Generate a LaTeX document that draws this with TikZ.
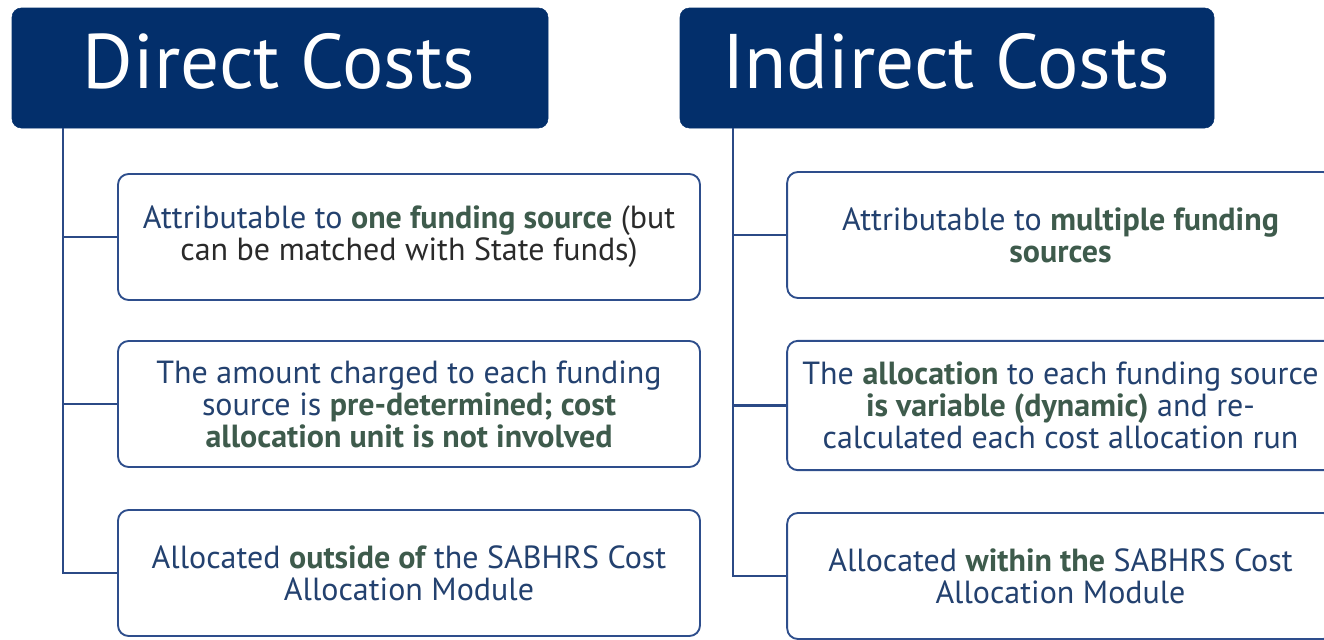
\documentclass[tikz,border=0pt]{standalone}
\usepackage{fontspec}
\setmainfont{PT Sans}
\usetikzlibrary{calc}
\definecolor{navyhead}{HTML}{032F6B}
\definecolor{boxline}{HTML}{2E4E8C}
\definecolor{trunkline}{HTML}{2B4A86}
\definecolor{bodytext}{HTML}{23416F}
\definecolor{accent}{HTML}{3E5B4C}
\definecolor{greytext}{HTML}{2A2A2A}
\newcommand{\hl}[1]{\textbf{\color{accent}#1}}
\tikzset{
  header/.style={fill=navyhead, draw=navyhead, rounded corners=7pt,
    minimum height=90pt, inner sep=0pt},
  headtext/.style={text=white, font=\fontsize{58}{62}\selectfont, anchor=base,
    inner sep=0pt},
  itembox/.style={draw=boxline, line width=1.4pt, fill=white, rounded corners=8pt,
    minimum height=94.5pt, text=bodytext, align=center,
    font=\fontsize{24}{24}\selectfont, inner sep=0pt},
  trunk/.style={draw=trunkline, line width=1.6pt},
}
\begin{document}
\begin{tikzpicture}[x=0.75pt, y=-0.75pt]
  \useasboundingbox (0,0) rectangle (1324,639);
  \clip (0,0) rectangle (1324,639);

  % column headers
  \node[header, minimum width=402pt] (hd) at (280,68) {};
  \node[headtext] (hdt) at (279,88) {Direct Costs};
  \node[header, minimum width=400.5pt] (hi) at (947,68) {};
  \node[headtext] (hit) at (946,88) {Indirect Costs};

  % direct cost items
  \node[itembox, minimum width=436.5pt] (d1) at (409,237)
    {Attributable to \hl{one funding source} \textcolor{greytext}{(but}\\
     \textcolor{greytext}{can be matched with State funds)}};
  \node[itembox, minimum width=436.5pt] (d2) at (409,404)
    {The amount charged to each funding\\
     source is \hl{pre-determined; cost}\\
     \hl{allocation unit is not involved}};
  \node[itembox, minimum width=436.5pt] (d3) at (409,573)
    {Allocated \hl{outside of} the SABHRS Cost\\
     Allocation Module};

  % indirect cost items
  \node[itembox, minimum width=410pt] (i1) at (1060.5,235)
    {Attributable to \hl{multiple funding}\\
     \hl{sources}};
  \node[itembox, minimum width=410pt, minimum height=97pt] (i2) at (1060.5,405.5)
    {The \hl{allocation} to each funding source\\
     \hl{is variable (dynamic)} and re-\\
     calculated each cost allocation run};
  \node[itembox, minimum width=410pt] (i3) at (1060.5,576)
    {Allocated \hl{within the} SABHRS Cost\\
     Allocation Module};

  % tree connectors
  \coordinate (dt) at (63,128);
  \coordinate (it) at (733,128);
  \draw[trunk] (dt) |- (d1.west);
  \draw[trunk] (dt) |- (d2.west);
  \draw[trunk] (dt) |- (d3.west);
  \draw[trunk] (it) |- (i1.west);
  \draw[trunk] (it) |- (i2.west);
  \draw[trunk] (it) |- (i3.west);
\end{tikzpicture}
\end{document}
